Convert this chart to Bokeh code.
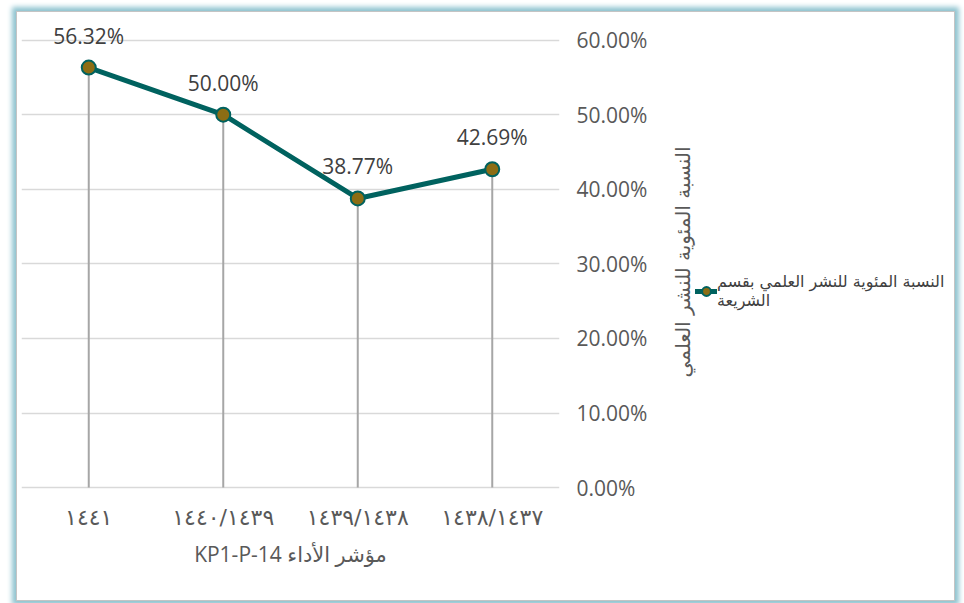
from bokeh.plotting import figure
from bokeh.layouts import row
from bokeh.models import (ColumnDataSource, LabelSet, NumeralTickFormatter,
                          FixedTicker, Legend, LegendItem, Range1d, Title)
from bokeh.core.properties import value
from bokeh.embed import file_html
from bokeh.resources import INLINE

# ---- data ----
categories = ["١٤٤١", "١٤٤٠/١٤٣٩", "١٤٣٩/١٤٣٨", "١٤٣٨/١٤٣٧"]
values = [0.5632, 0.5000, 0.3877, 0.4269]
y_ticks = [0.0, 0.1, 0.2, 0.3, 0.4, 0.5, 0.6]
series_name = "النسبة المئوية للنشر العلمي بقسم\nالشريعة"
y_title = "النسبة المئوية للنشر العلمي"
x_title = "\u202bمؤشر الأداء KP1-P-14\u202c"

LINE = "#00625f"
MARK = "#8c6d14"
LATIN = "Open Sans"
ARABIC = "DejaVu Sans"

src = ColumnDataSource(dict(
    cat=categories,
    val=values,
    zero=[0.0] * len(values),
    lab=[f"{v:.2%}" for v in values],
))

# ---------------- main chart ----------------
p = figure(
    x_range=categories, y_range=Range1d(-0.02, 0.625),
    width=650, height=588,
    min_border_left=4, min_border_top=9, min_border_right=108, min_border_bottom=98,
    output_backend="svg", toolbar_location=None,
    y_axis_location="right",
)
p.outline_line_color = None
p.background_fill_color = "white"
p.border_fill_color = "white"

p.xgrid.grid_line_color = None
p.ygrid.grid_line_color = "#d9d9d9"
p.ygrid.grid_line_width = 1.5

ya = p.yaxis[0]
ya.ticker = FixedTicker(ticks=y_ticks)
ya.formatter = NumeralTickFormatter(format="0.00%")
ya.axis_line_color = None
ya.major_tick_line_color = None
ya.minor_tick_line_color = None
ya.major_label_standoff = 11
ya.major_label_text_font = LATIN
ya.major_label_text_font_size = "21px"
ya.major_label_text_color = "#595959"

xa = p.xaxis[0]
xa.axis_line_color = None
xa.major_tick_line_color = None
xa.minor_tick_line_color = None
xa.major_label_standoff = -4
xa.major_label_text_font = ARABIC
xa.major_label_text_font_size = "22px"
xa.major_label_text_color = "#595959"
xa.axis_label = x_title
xa.axis_label_text_font = "'Open Sans', 'DejaVu Sans'"
xa.axis_label_text_font_size = "21px"
xa.axis_label_text_font_style = "normal"
xa.axis_label_text_color = "#595959"
xa.axis_label_standoff = 7

p.segment(x0="cat", y0="zero", x1="cat", y1="val", source=src,
          line_color="#a6a6a6", line_width=2)
p.line(x="cat", y="val", source=src, line_color=LINE, line_width=5,
       line_join="round", line_cap="round")
p.scatter(x="cat", y="val", source=src, size=14, fill_color=MARK,
          line_color=LINE, line_width=2)

labels = LabelSet(x="cat", y="val", text="lab", source=src,
                  y_offset=32, text_align="center", text_baseline="middle",
                  text_font=value(LATIN), text_font_size=value("21px"),
                  text_color="#404040")
p.add_layout(labels)

# ---------------- y-axis title + legend panel ----------------
q = figure(
    x_range=categories, y_range=Range1d(2, 3),
    width=287, height=588,
    x_axis_location=None, y_axis_location=None,
    min_border_left=0, min_border_right=0, min_border_top=9, min_border_bottom=98,
    output_backend="svg", toolbar_location=None,
)
q.outline_line_color = None
q.background_fill_color = "white"
q.border_fill_color = "white"
q.xgrid.grid_line_color = None
q.ygrid.grid_line_color = None

q.add_layout(Title(text=y_title, align="center", standoff=2,
                   text_font=ARABIC, text_font_size="20px",
                   text_font_style="normal", text_color="#595959"), "left")

lq = q.line(x="cat", y="val", source=src, line_color=LINE, line_width=5,
            line_cap="round")
sq = q.scatter(x="cat", y="val", source=src, size=14, fill_color=MARK,
               line_color=LINE, line_width=2)
legend = Legend(items=[LegendItem(label=series_name, renderers=[lq, sq])],
                location=(0, 192), orientation="vertical",
                glyph_width=22, glyph_height=24, label_standoff=0,
                padding=0, margin=0, spacing=0,
                border_line_color=None, background_fill_alpha=0,
                label_text_font=ARABIC, label_text_font_size="16px",
                label_text_line_height=1.45,
                label_text_color="#404040")
q.add_layout(legend, "center")

layout = row(p, q, styles={"border": "1px solid #c4c4c4",
                           "box-shadow": "0 0 5px 4px #8fc4d0",
                           "margin-left": "16px", "margin-top": "11px",
                           "background": "white"})

open("out.html", "w").write(file_html(layout, INLINE))
